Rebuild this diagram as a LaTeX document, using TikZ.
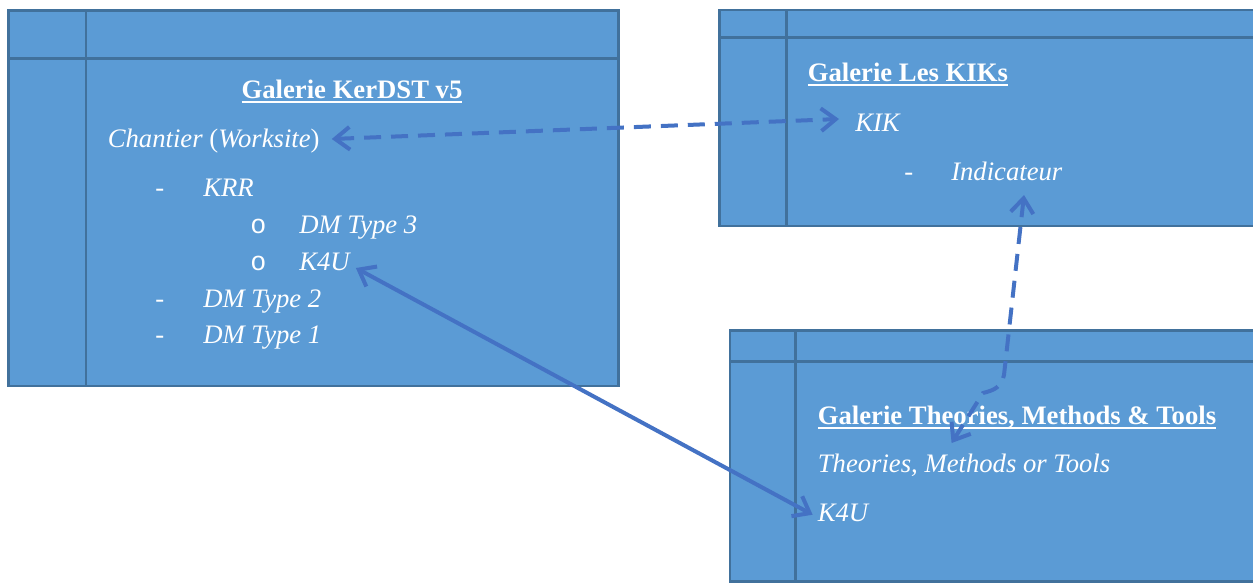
\documentclass[tikz,border=0pt]{standalone}
\usepackage{fontspec}
\setmainfont{Liberation Serif}
\newfontfamily\monofnt{Liberation Mono}
\newsavebox{\gulbox}
\newcommand{\gul}[1]{\sbox{\gulbox}{#1}\rlap{\rule[-3.4pt]{\wd\gulbox}{1.4pt}}\usebox{\gulbox}}
\usetikzlibrary{arrows.meta}
\definecolor{boxfill}{HTML}{5B9BD5}
\definecolor{boxline}{HTML}{41719C}
\definecolor{arrowcol}{HTML}{4472C4}
\tikzset{
  gbox/.style={fill=boxfill, draw=boxline, line width=2pt},
  gline/.style={draw=boxline, line width=2pt},
  txt/.style={text=white, anchor=base west, inner sep=0pt, font=\fontsize{20}{24}\selectfont\itshape},
  bul/.style={text=white, anchor=base west, inner sep=0pt, font=\fontsize{20}{24}\selectfont},
  obul/.style={text=white, anchor=base west, inner sep=0pt, font=\fontsize{20}{24}\selectfont\monofnt},
  ttl/.style={text=white, anchor=base west, inner sep=0pt, font=\fontsize{20}{24}\selectfont\bfseries},
  conn/.style={draw=arrowcol, line width=3pt, {Straight Barb[length=11pt,width=17pt]}-{Straight Barb[length=11pt,width=17pt]}},
  dconn/.style={conn, dash pattern=on 12.75pt off 7.5pt},
}
\begin{document}
\begin{tikzpicture}[x=0.75pt,y=-0.75pt]
\useasboundingbox (0,0) rectangle (1253,583);
\clip (0,0) rectangle (1253,583);
% box 1
\draw[gbox] (8.8,10.7) rectangle (618.5,386);
\draw[gline] (86,10.7) -- (86,386);
\draw[gline] (8.8,58.3) -- (618.5,58.3);
% box 2
\draw[gbox] (719.4,10) rectangle (1270,226);
\draw[gline] (786.4,10) -- (786.4,226);
\draw[gline] (719.4,37.3) -- (1270,37.3);
% box 3
\draw[gbox] (730,330.7) rectangle (1270,581.7);
\draw[gline] (795.5,330.7) -- (795.5,581.7);
\draw[gline] (730,361.7) -- (1270,361.7);

% box 1 text
\node[ttl, anchor=base] (t1) at (352,98) {\gul{Galerie KerDST v5}};
\node[txt] (chantier) at (107.6,147) {Chantier \textup{(}Worksite\textup{)}};
\node[bul] (d1) at (155,196) {-};
\node[txt] (krr) at (203,196) {KRR};
\node[obul] (o1) at (250,233) {o};
\node[txt] (dm3) at (299,233) {DM Type 3};
\node[obul] (o2) at (250,270) {o};
\node[txt] (k4ua) at (299,270) {K4U};
\node[bul] (d2) at (155,307) {-};
\node[txt] (dm2) at (203,307) {DM Type 2};
\node[bul] (d3) at (155,343) {-};
\node[txt] (dm1) at (203,343) {DM Type 1};

% box 2 text
\node[ttl] (t2) at (807.6,81) {\gul{Galerie Les KIKs}};
\node[txt] (kik) at (855,131) {KIK};
\node[bul] (d4) at (904,180) {-};
\node[txt] (ind) at (951,180) {Indicateur};

% box 3 text
\node[ttl] (t3) at (817.6,424) {\gul{Galerie Theories, Methods \& Tools}};
\node[txt] (tmt) at (817.6,472.7) {Theories, Methods or Tools};
\node[txt] (k4ub) at (817.6,521.7) {K4U};

% connectors
\draw[dconn] ([shift={(12,-8)}]chantier.base east) -- ([shift={(-16,-12)}]kik.base west);
\draw[conn] ([shift={(6,-2)}]k4ua.base east) -- ([shift={(-5,-7)}]k4ub.base west);
\draw[dconn] ([shift={(73,15)}]ind.base west) -- ([shift={(53,195)}]ind.base west)
   .. controls ([shift={(50,207)}]ind.base west) and ([shift={(44,210)}]ind.base west) .. ([shift={(32,213)}]ind.base west)
   -- ([shift={(134,19)}]t3.base west);
\end{tikzpicture}
\end{document}
